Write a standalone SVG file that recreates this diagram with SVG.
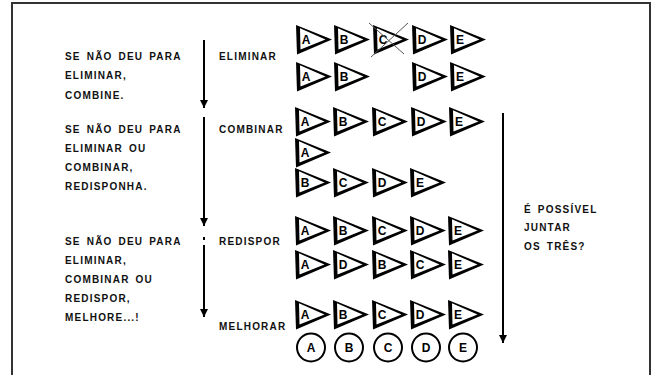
<svg xmlns="http://www.w3.org/2000/svg" xmlns:xlink="http://www.w3.org/1999/xlink" width="654" height="375" viewBox="0 0 654 375">
  <style>
    .txt { font-family: "Liberation Sans", Arial, sans-serif; font-weight: bold; font-size: 10px; letter-spacing: 1.2px; word-spacing: 2px; fill: #111; }
    .lbl { font-family: "Liberation Sans", Arial, sans-serif; font-weight: bold; font-size: 12px; fill: #000; text-anchor: middle; }
    .arrow { stroke: #000; stroke-width: 2; fill: none; }
    .cross { stroke: #555; stroke-width: 1; }
    .ring { fill: #fff; stroke: #000; stroke-width: 2; }
  </style>
  <defs>
    <!-- pennant: black outer triangle with a white inner triangle, thick left and bottom sides -->
    <g id="pen">
      <polygon points="0,0 36,14.5 1,29.5" fill="#000"/>
      <polygon points="4,3.3 29.5,14.6 4.5,24.5" fill="#fff"/>
    </g>
    <marker id="head" viewBox="0 0 8 8" refX="8" refY="4" markerWidth="8" markerHeight="8" markerUnits="userSpaceOnUse" orient="auto">
      <path d="M0,0 L8,4 L0,8 Z" fill="#000"/>
    </marker>
  </defs>

  <rect width="654" height="375" fill="#fff"/>
  <!-- frame -->
  <path d="M12,380 L12,3 L650,3 L650,380" fill="none" stroke="#333" stroke-width="2"/>

  <!-- explanatory texts -->
  <g id="note-eliminar">
    <text class="txt" x="65" y="60">SE NÃO DEU PARA</text>
    <text class="txt" x="65" y="79">ELIMINAR,</text>
    <text class="txt" x="65" y="99">COMBINE.</text>
  </g>
  <g id="note-combinar">
    <text class="txt" x="65" y="133">SE NÃO DEU PARA</text>
    <text class="txt" x="65" y="152">ELIMINAR OU</text>
    <text class="txt" x="65" y="171">COMBINAR,</text>
    <text class="txt" x="65" y="190">REDISPONHA.</text>
  </g>
  <g id="note-redispor">
    <text class="txt" x="65" y="245">SE NÃO DEU PARA</text>
    <text class="txt" x="65" y="264">ELIMINAR,</text>
    <text class="txt" x="65" y="283">COMBINAR OU</text>
    <text class="txt" x="65" y="302">REDISPOR,</text>
    <text class="txt" x="65" y="321">MELHORE...!</text>
  </g>
  <g id="note-juntar">
    <text class="txt" x="524" y="213">É POSSÍVEL</text>
    <text class="txt" x="524" y="231">JUNTAR</text>
    <text class="txt" x="524" y="250">OS TRÊS?</text>
  </g>

  <!-- step labels -->
  <g id="step-eliminar"><text class="txt" x="219" y="60">ELIMINAR</text></g>
  <g id="step-combinar"><text class="txt" x="219" y="133">COMBINAR</text></g>
  <g id="step-redispor"><text class="txt" x="219" y="245">REDISPOR</text></g>
  <g id="step-melhorar"><text class="txt" x="219" y="330">MELHORAR</text></g>

  <!-- connectors -->
  <g id="connectors">
    <line class="arrow" x1="204" y1="40" x2="204" y2="108" marker-end="url(#head)"/>
    <line class="arrow" x1="204" y1="117" x2="204" y2="226" marker-end="url(#head)"/>
    <line class="arrow" x1="204" y1="237" x2="204" y2="240"/>
    <line class="arrow" x1="204" y1="245" x2="204" y2="317" marker-end="url(#head)"/>
    <line class="arrow" x1="503" y1="113" x2="503" y2="343" marker-end="url(#head)"/>
  </g>

  <!-- ELIMINAR: original row and row with C removed -->
  <g id="row-eliminar-1">
    <use xlink:href="#pen" x="296" y="25"/><text class="lbl" x="306" y="44">A</text>
    <use xlink:href="#pen" x="334" y="25"/><text class="lbl" x="344" y="44">B</text>
    <use xlink:href="#pen" x="373" y="25"/><text class="lbl" x="383" y="44">C</text>
    <use xlink:href="#pen" x="412" y="25"/><text class="lbl" x="422" y="44">D</text>
    <use xlink:href="#pen" x="450" y="25"/><text class="lbl" x="460" y="44">E</text>
    <line class="cross" x1="369" y1="23" x2="404" y2="54"/>
    <line class="cross" x1="408" y1="23" x2="371" y2="57"/>
  </g>
  <g id="row-eliminar-2">
    <use xlink:href="#pen" x="296" y="62"/><text class="lbl" x="306" y="81">A</text>
    <use xlink:href="#pen" x="334" y="62"/><text class="lbl" x="344" y="81">B</text>
    <use xlink:href="#pen" x="412" y="62"/><text class="lbl" x="422" y="81">D</text>
    <use xlink:href="#pen" x="450" y="62"/><text class="lbl" x="460" y="81">E</text>
  </g>

  <!-- COMBINAR -->
  <g id="row-combinar-1">
    <use xlink:href="#pen" x="295" y="107"/><text class="lbl" x="305" y="126">A</text>
    <use xlink:href="#pen" x="333" y="107"/><text class="lbl" x="343" y="126">B</text>
    <use xlink:href="#pen" x="372" y="107"/><text class="lbl" x="382" y="126">C</text>
    <use xlink:href="#pen" x="411" y="107"/><text class="lbl" x="421" y="126">D</text>
    <use xlink:href="#pen" x="449" y="107"/><text class="lbl" x="459" y="126">E</text>
  </g>
  <g id="row-combinar-2">
    <use xlink:href="#pen" x="295" y="138"/><text class="lbl" x="305" y="157">A</text>
    <use xlink:href="#pen" x="295" y="168"/><text class="lbl" x="305" y="187">B</text>
    <use xlink:href="#pen" x="333" y="168"/><text class="lbl" x="343" y="187">C</text>
    <use xlink:href="#pen" x="372" y="168"/><text class="lbl" x="382" y="187">D</text>
    <use xlink:href="#pen" x="410" y="168"/><text class="lbl" x="420" y="187">E</text>
  </g>

  <!-- REDISPOR -->
  <g id="row-redispor-1">
    <use xlink:href="#pen" x="295" y="216"/><text class="lbl" x="305" y="235">A</text>
    <use xlink:href="#pen" x="333" y="216"/><text class="lbl" x="343" y="235">B</text>
    <use xlink:href="#pen" x="372" y="216"/><text class="lbl" x="382" y="235">C</text>
    <use xlink:href="#pen" x="410" y="216"/><text class="lbl" x="420" y="235">D</text>
    <use xlink:href="#pen" x="448" y="216"/><text class="lbl" x="458" y="235">E</text>
  </g>
  <g id="row-redispor-2">
    <use xlink:href="#pen" x="295" y="250"/><text class="lbl" x="305" y="269">A</text>
    <use xlink:href="#pen" x="333" y="250"/><text class="lbl" x="343" y="269">D</text>
    <use xlink:href="#pen" x="372" y="250"/><text class="lbl" x="382" y="269">B</text>
    <use xlink:href="#pen" x="410" y="250"/><text class="lbl" x="420" y="269">C</text>
    <use xlink:href="#pen" x="448" y="250"/><text class="lbl" x="458" y="269">E</text>
  </g>

  <!-- MELHORAR -->
  <g id="row-melhorar">
    <use xlink:href="#pen" x="295" y="300"/><text class="lbl" x="305" y="319">A</text>
    <use xlink:href="#pen" x="333" y="300"/><text class="lbl" x="343" y="319">B</text>
    <use xlink:href="#pen" x="372" y="300"/><text class="lbl" x="382" y="319">C</text>
    <use xlink:href="#pen" x="410" y="300"/><text class="lbl" x="420" y="319">D</text>
    <use xlink:href="#pen" x="448" y="300"/><text class="lbl" x="458" y="319">E</text>
  </g>
  <g id="row-circles">
    <circle class="ring" cx="311" cy="347.5" r="14"/><text class="lbl" x="311" y="352" font-size="11">A</text>
    <circle class="ring" cx="349" cy="347.5" r="14"/><text class="lbl" x="349" y="352" font-size="11">B</text>
    <circle class="ring" cx="388" cy="347.5" r="14"/><text class="lbl" x="388" y="352" font-size="11">C</text>
    <circle class="ring" cx="426" cy="347.5" r="14"/><text class="lbl" x="426" y="352" font-size="11">D</text>
    <circle class="ring" cx="463" cy="347.5" r="14"/><text class="lbl" x="463" y="352" font-size="11">E</text>
  </g>
</svg>
